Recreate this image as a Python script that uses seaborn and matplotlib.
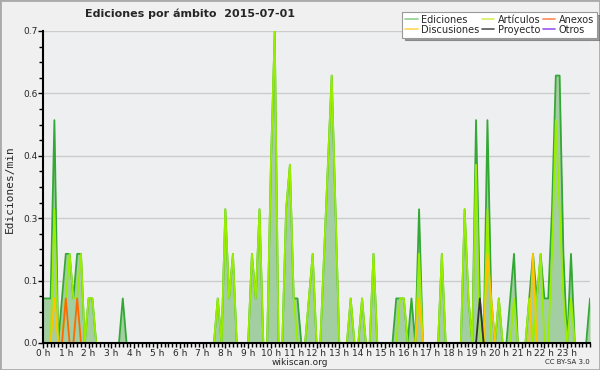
import numpy as np
import pandas as pd
import matplotlib
matplotlib.use("Agg")
import matplotlib.pyplot as plt
import seaborn as sns
from matplotlib.lines import Line2D
from matplotlib.patches import Rectangle
from matplotlib.ticker import MultipleLocator, FormatStrFormatter

# Ediciones/min, one value every 10 minutes (00:00 .. 24:00), 2 hours per row
ediciones = [
    0.1, 0.1, 0.1, 0.5, 0.0, 0.1, 0.2, 0.2, 0.1, 0.2, 0.2, 0.0,
    0.1, 0.1, 0.0, 0.0, 0.0, 0.0, 0.0, 0.0, 0.0, 0.1, 0.0, 0.0,
    0.0, 0.0, 0.0, 0.0, 0.0, 0.0, 0.0, 0.0, 0.0, 0.0, 0.0, 0.0,
    0.0, 0.0, 0.0, 0.0, 0.0, 0.0, 0.0, 0.0, 0.0, 0.0, 0.1, 0.0,
    0.3, 0.1, 0.2, 0.0, 0.0, 0.0, 0.0, 0.2, 0.1, 0.3, 0.0, 0.0,
    0.4, 0.7, 0.0, 0.0, 0.3, 0.4, 0.1, 0.1, 0.0, 0.0, 0.1, 0.2,
    0.0, 0.0, 0.2, 0.4, 0.6, 0.3, 0.0, 0.0, 0.0, 0.1, 0.0, 0.0,
    0.1, 0.0, 0.0, 0.2, 0.0, 0.0, 0.0, 0.0, 0.0, 0.1, 0.1, 0.1,
    0.0, 0.1, 0.0, 0.3, 0.0, 0.0, 0.0, 0.0, 0.0, 0.2, 0.0, 0.0,
    0.0, 0.0, 0.0, 0.3, 0.1, 0.0, 0.5, 0.1, 0.0, 0.5, 0.1, 0.0,
    0.1, 0.0, 0.0, 0.1, 0.2, 0.0, 0.0, 0.0, 0.1, 0.2, 0.1, 0.2,
    0.1, 0.1, 0.3, 0.6, 0.6, 0.2, 0.0, 0.2, 0.0, 0.0, 0.0, 0.0,
    0.1,
]
articulos = [
    0.0, 0.0, 0.0, 0.3, 0.0, 0.0, 0.1, 0.2, 0.1, 0.1, 0.2, 0.0,
    0.1, 0.1, 0.0, 0.0, 0.0, 0.0, 0.0, 0.0, 0.0, 0.0, 0.0, 0.0,
    0.0, 0.0, 0.0, 0.0, 0.0, 0.0, 0.0, 0.0, 0.0, 0.0, 0.0, 0.0,
    0.0, 0.0, 0.0, 0.0, 0.0, 0.0, 0.0, 0.0, 0.0, 0.0, 0.1, 0.0,
    0.3, 0.1, 0.2, 0.0, 0.0, 0.0, 0.0, 0.2, 0.1, 0.3, 0.0, 0.0,
    0.4, 0.7, 0.0, 0.0, 0.3, 0.4, 0.1, 0.0, 0.0, 0.0, 0.1, 0.2,
    0.0, 0.0, 0.2, 0.4, 0.6, 0.3, 0.0, 0.0, 0.0, 0.1, 0.0, 0.0,
    0.1, 0.0, 0.0, 0.2, 0.0, 0.0, 0.0, 0.0, 0.0, 0.0, 0.1, 0.1,
    0.0, 0.0, 0.0, 0.2, 0.0, 0.0, 0.0, 0.0, 0.0, 0.2, 0.0, 0.0,
    0.0, 0.0, 0.0, 0.3, 0.1, 0.0, 0.4, 0.0, 0.0, 0.3, 0.0, 0.0,
    0.1, 0.0, 0.0, 0.0, 0.1, 0.0, 0.0, 0.0, 0.1, 0.0, 0.1, 0.2,
    0.0, 0.0, 0.2, 0.5, 0.3, 0.1, 0.0, 0.1, 0.0, 0.0, 0.0, 0.0,
    0.0,
]
anexos = [
    0.0, 0.0, 0.0, 0.0, 0.0, 0.0, 0.1, 0.0, 0.0, 0.1, 0.0, 0.0,
    0.0, 0.0, 0.0, 0.0, 0.0, 0.0, 0.0, 0.0, 0.0, 0.0, 0.0, 0.0,
    0.0, 0.0, 0.0, 0.0, 0.0, 0.0, 0.0, 0.0, 0.0, 0.0, 0.0, 0.0,
    0.0, 0.0, 0.0, 0.0, 0.0, 0.0, 0.0, 0.0, 0.0, 0.0, 0.0, 0.0,
    0.0, 0.0, 0.0, 0.0, 0.0, 0.0, 0.0, 0.0, 0.0, 0.0, 0.0, 0.0,
    0.0, 0.0, 0.0, 0.0, 0.0, 0.0, 0.0, 0.0, 0.0, 0.0, 0.0, 0.0,
    0.0, 0.0, 0.0, 0.0, 0.0, 0.0, 0.0, 0.0, 0.0, 0.0, 0.0, 0.0,
    0.0, 0.0, 0.0, 0.0, 0.0, 0.0, 0.0, 0.0, 0.0, 0.0, 0.0, 0.0,
    0.0, 0.0, 0.0, 0.0, 0.0, 0.0, 0.0, 0.0, 0.0, 0.0, 0.0, 0.0,
    0.0, 0.0, 0.0, 0.0, 0.0, 0.0, 0.0, 0.0, 0.0, 0.0, 0.0, 0.0,
    0.0, 0.0, 0.0, 0.0, 0.0, 0.0, 0.0, 0.0, 0.0, 0.0, 0.0, 0.0,
    0.0, 0.0, 0.0, 0.0, 0.0, 0.0, 0.0, 0.0, 0.0, 0.0, 0.0, 0.0,
    0.0,
]
discusiones = [
    0.0, 0.0, 0.0, 0.1, 0.0, 0.0, 0.0, 0.0, 0.0, 0.0, 0.0, 0.0,
    0.0, 0.0, 0.0, 0.0, 0.0, 0.0, 0.0, 0.0, 0.0, 0.0, 0.0, 0.0,
    0.0, 0.0, 0.0, 0.0, 0.0, 0.0, 0.0, 0.0, 0.0, 0.0, 0.0, 0.0,
    0.0, 0.0, 0.0, 0.0, 0.0, 0.0, 0.0, 0.0, 0.0, 0.0, 0.0, 0.0,
    0.0, 0.0, 0.0, 0.0, 0.0, 0.0, 0.0, 0.0, 0.0, 0.0, 0.0, 0.0,
    0.0, 0.0, 0.0, 0.0, 0.0, 0.0, 0.0, 0.0, 0.0, 0.0, 0.0, 0.0,
    0.0, 0.0, 0.0, 0.0, 0.0, 0.0, 0.0, 0.0, 0.0, 0.0, 0.0, 0.0,
    0.0, 0.0, 0.0, 0.0, 0.0, 0.0, 0.0, 0.0, 0.0, 0.0, 0.0, 0.0,
    0.0, 0.0, 0.0, 0.1, 0.0, 0.0, 0.0, 0.0, 0.0, 0.0, 0.0, 0.0,
    0.0, 0.0, 0.0, 0.0, 0.0, 0.0, 0.0, 0.0, 0.0, 0.2, 0.1, 0.0,
    0.0, 0.0, 0.0, 0.0, 0.0, 0.0, 0.0, 0.0, 0.0, 0.2, 0.0, 0.0,
    0.0, 0.0, 0.0, 0.0, 0.0, 0.0, 0.0, 0.0, 0.0, 0.0, 0.0, 0.0,
    0.0,
]
proyecto = [
    0.0, 0.0, 0.0, 0.0, 0.0, 0.0, 0.0, 0.0, 0.0, 0.0, 0.0, 0.0,
    0.0, 0.0, 0.0, 0.0, 0.0, 0.0, 0.0, 0.0, 0.0, 0.0, 0.0, 0.0,
    0.0, 0.0, 0.0, 0.0, 0.0, 0.0, 0.0, 0.0, 0.0, 0.0, 0.0, 0.0,
    0.0, 0.0, 0.0, 0.0, 0.0, 0.0, 0.0, 0.0, 0.0, 0.0, 0.0, 0.0,
    0.0, 0.0, 0.0, 0.0, 0.0, 0.0, 0.0, 0.0, 0.0, 0.0, 0.0, 0.0,
    0.0, 0.0, 0.0, 0.0, 0.0, 0.0, 0.0, 0.0, 0.0, 0.0, 0.0, 0.0,
    0.0, 0.0, 0.0, 0.0, 0.0, 0.0, 0.0, 0.0, 0.0, 0.0, 0.0, 0.0,
    0.0, 0.0, 0.0, 0.0, 0.0, 0.0, 0.0, 0.0, 0.0, 0.0, 0.0, 0.0,
    0.0, 0.0, 0.0, 0.0, 0.0, 0.0, 0.0, 0.0, 0.0, 0.0, 0.0, 0.0,
    0.0, 0.0, 0.0, 0.0, 0.0, 0.0, 0.0, 0.1, 0.0, 0.0, 0.0, 0.0,
    0.0, 0.0, 0.0, 0.0, 0.0, 0.0, 0.0, 0.0, 0.0, 0.0, 0.0, 0.0,
    0.0, 0.0, 0.0, 0.0, 0.0, 0.0, 0.0, 0.0, 0.0, 0.0, 0.0, 0.0,
    0.0,
]

hour_labels = [f"{h} h" for h in range(24)]
y_ticks = [0.0, 0.14, 0.28, 0.42, 0.56, 0.7]

series = [
    # name, values, line colour, legend colour
    ("Ediciones", ediciones, "#34a834", "#8fd08f"),
    ("Artículos", articulos, "#99ee00", "#d4ef5a"),
    ("Anexos", anexos, "#ff6a00", "#ff8c55"),
    ("Discusiones", discusiones, "#ffc400", "#ffd75a"),
    ("Proyecto", proyecto, "#333333", "#555555"),
    ("Otros", None, "#8a3cff", "#9955ee"),
]

df = pd.DataFrame({
    "Ediciones": ediciones,
    "Artículos": articulos,
    "Anexos": anexos,
    "Discusiones": discusiones,
    "Proyecto": proyecto,
})
df["hora"] = np.arange(len(df)) / 6.0

sns.set_style("white")
plt.rcParams["font.family"] = ["DejaVu Sans"]

fig = plt.figure(figsize=(6, 3.7), dpi=100, facecolor="#f0f0f0")
ax = fig.add_axes([43 / 600, 27 / 370, 547 / 600, 312 / 370])
ax.set_facecolor("#eeeff1")

# filled total
ax.fill_between(df["hora"], df["Ediciones"], color="#a2cea2", lw=0, zorder=1.5)
for name, vals, col, _ in series:
    if vals is None:
        continue
    sns.lineplot(data=df, x="hora", y=name, color=col, lw=1.3, ax=ax,
                 legend=False, zorder=2)

ax.set_xlim(0, 24)
ax.set_ylim(0, 0.7)
ax.set_xticks(range(24))
ax.set_xticklabels(hour_labels)
ax.xaxis.set_minor_locator(MultipleLocator(1 / 6))
ax.set_yticks(y_ticks)
ax.yaxis.set_major_formatter(FormatStrFormatter("%.1f"))
ax.yaxis.set_minor_locator(MultipleLocator(0.035))
ax.tick_params(which="major", direction="out", length=3.5, width=1,
               color="black", labelsize=6.5, pad=0.5, left=True, bottom=True)
ax.tick_params(which="minor", direction="out", length=3, width=1,
               color="black", left=True, bottom=True)
ax.yaxis.grid(True, color="#cccccc", lw=1)
ax.set_axisbelow(True)
for s in ["top", "right"]:
    ax.spines[s].set_visible(False)
for s in ["left", "bottom"]:
    ax.spines[s].set_color("black")
    ax.spines[s].set_linewidth(1.5)
ax.set_xlabel("")
ax.set_ylabel("")

# legend, column-major order for 3 columns
order = [0, 3, 1, 4, 2, 5]
handles = [Line2D([], [], color=series[k][3], lw=1.2) for k in order]
labels = [series[k][0] for k in order]
leg = fig.legend(handles, labels, loc="upper right", bbox_to_anchor=(0.995, 0.968),
                 ncol=3, fontsize=7, frameon=True, fancybox=False, shadow=True,
                 handlelength=1.3, handletextpad=0.35, columnspacing=0.25,
                 labelspacing=0.0, borderpad=0.3, borderaxespad=0)
leg.get_frame().set_edgecolor("#999999")
leg.get_frame().set_facecolor("white")
leg.get_frame().set_linewidth(0.8)

fig.text(0.142, 0.962, "Ediciones por ámbito  2015-07-01", fontsize=8,
         fontweight="bold", ha="left", va="center")
fig.text(0.017, 0.49, "Ediciones/min", rotation=90, fontsize=8,
         family="DejaVu Sans Mono", ha="center", va="center")
fig.text(0.5, 0.021, "wikiscan.org", fontsize=6.5, ha="center", va="center")
fig.text(0.983, 0.021, "CC BY-SA 3.0", fontsize=5, ha="right", va="center")

fig.patches.append(Rectangle((0, 0), 1, 1, transform=fig.transFigure,
                             fill=False, edgecolor="#aaaaaa", lw=2))

fig.savefig("out.png", dpi=100, facecolor=fig.get_facecolor())
